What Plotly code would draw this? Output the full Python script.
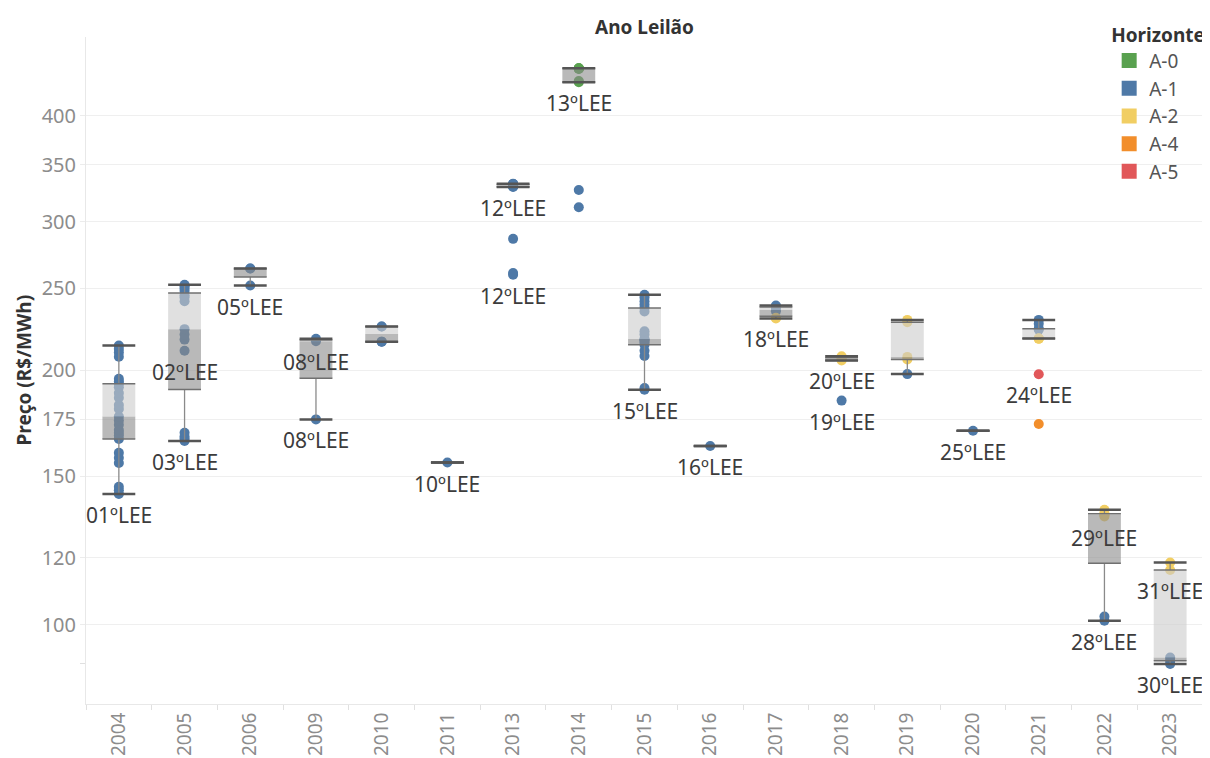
import numpy as np
import plotly.graph_objects as go

anos = ["2004", "2005", "2006", "2009", "2010", "2011", "2013", "2014", "2015",
        "2016", "2017", "2018", "2019", "2020", "2021", "2022", "2023"]

horizontes = ["A-0", "A-1", "A-2", "A-4", "A-5"]
cores = ["#59a14f", "#4e79a7", "#f1ce63", "#f28e2b", "#e15759"]

# one entry per project: auction year, price (R$/MWh), horizon
ponto_ano = (["2004"] * 25 + ["2005"] * 15 + ["2006"] * 3 + ["2009"] * 3 + ["2010"] * 4
             + ["2011"] + ["2013"] * 13 + ["2014"] * 9 + ["2015"] * 17 + ["2016"]
             + ["2017"] * 6 + ["2018"] * 5 + ["2019"] * 5 + ["2020"] + ["2021"] * 9
             + ["2022"] * 7 + ["2023"] * 5)
ponto_preco = [
    142.8, 144.3, 145.7, 155.4, 157.6, 159.8, 165.9, 167.5, 168.7, 170, 172.5, 174.5, 176.4,
    180, 182, 185.6, 188, 191, 192.8, 194, 195.5, 207.6, 210, 212, 214,            # 2004
    165, 166, 167, 168.7, 211, 217.5, 220.5, 223.8, 241.5, 244, 245.5, 248.3, 250,
    251.5, 252.5,                                                                  # 2005
    252, 264, 264,                                                                 # 2006
    175, 216.5, 218,                                                               # 2009
    216.3, 216.3, 225.4, 225.4,                                                    # 2010
    155.6,                                                                         # 2011
    259.5, 260.8, 286.2, 329.6, 330, 330.5, 331, 331, 331.5, 332, 332, 332.3, 332.6,  # 2013
    312, 327, 438.6, 440, 454.5, 455, 455.6, 455.6, 455.6,                         # 2014
    189.7, 190.6, 208, 211, 214.5, 216, 217, 217.5, 217.8, 220.5, 222.5, 234.8, 237,
    239.2, 241.4, 244, 245.7,                                                      # 2015
    162.8,                                                                         # 2016
    230.4, 230.8, 235, 236.5, 238, 238.6,                                          # 2017
    184.2, 205.5, 206.5, 207, 207.8,                                               # 2018
    198, 206, 207.5, 228, 229.5,                                                   # 2019
    169.7,                                                                         # 2020
    172.8, 197.9, 218.1, 218.1, 218.1, 223.5, 224.1, 227.1, 229.5,                 # 2021
    101.1, 102.3, 134.3, 135, 135.2, 135.4, 136.8,                                 # 2022
    89.9, 90.7, 91.5, 116.1, 118.5,                                                # 2023
]
ponto_horiz = (["A-1"] * 25 + ["A-1"] * 15 + ["A-1"] * 3 + ["A-1"] * 3 + ["A-1"] * 4
               + ["A-1"] + ["A-1"] * 13 + ["A-1"] * 2 + ["A-0"] * 7 + ["A-1"] * 17 + ["A-1"]
               + ["A-2"] * 2 + ["A-1"] * 4 + ["A-1"] + ["A-2"] * 4 + ["A-1"] + ["A-2"] * 4
               + ["A-1"] + ["A-4", "A-5"] + ["A-2"] * 3 + ["A-1"] * 4
               + ["A-1"] * 2 + ["A-2"] * 5 + ["A-1"] * 3 + ["A-2"] * 2)

# auction labels, attached to a point of that year
rotulo_ano = ["2004", "2005", "2005", "2006", "2009", "2009", "2011", "2013", "2013", "2014",
              "2015", "2016", "2017", "2018", "2018", "2020", "2021", "2022", "2022",
              "2023", "2023"]
rotulo_preco = [142.8, 211, 165, 252, 216.5, 175, 155.6, 329.6, 259.5, 438.6,
                189.7, 162.8, 230.4, 205.5, 184.2, 169.7, 197.9, 134.3, 101.1,
                116.1, 89.9]
rotulo_texto = ["01ºLEE", "02ºLEE", "03ºLEE", "05ºLEE", "08ºLEE", "08ºLEE", "10ºLEE",
                "12ºLEE", "12ºLEE", "13ºLEE", "15ºLEE", "16ºLEE", "18ºLEE", "20ºLEE",
                "19ºLEE", "25ºLEE", "24ºLEE", "29ºLEE", "28ºLEE", "31ºLEE", "30ºLEE"]

pos = {a: i for i, a in enumerate(anos)}
px_ = np.array([pos[a] for a in ponto_ano])
py_ = np.array(ponto_preco)
ph_ = np.array(ponto_horiz)

# box statistics per year (linear percentiles, 1.5 IQR whiskers)
q1s, meds, q3s, los, his = [], [], [], [], []
for i in range(len(anos)):
    v = py_[px_ == i]
    q1, med, q3 = np.percentile(v, [25, 50, 75])
    iqr = q3 - q1
    q1s.append(q1)
    meds.append(med)
    q3s.append(q3)
    los.append(v[v >= q1 - 1.5 * iqr].min())
    his.append(v[v <= q3 + 1.5 * iqr].max())

W = 0.25


def rects(bottoms, tops):
    xs, ys = [], []
    for i, (b, t) in enumerate(zip(bottoms, tops)):
        xs += [i - W, i + W, i + W, i - W, i - W, None]
        ys += [b, b, t, t, b, None]
    return xs, ys


def hsegs(*vals):
    xs, ys = [], []
    for arr in vals:
        for i, v in enumerate(arr):
            xs += [i - W, i + W, None]
            ys += [v, v, None]
    return xs, ys


fig = go.Figure()

for h, c in zip(horizontes, cores):
    m = ph_ == h
    fig.add_trace(go.Scatter(x=px_[m], y=py_[m], mode='markers', showlegend=False,
                             marker=dict(size=10, color=c), hoverinfo='y'))

# boxes drawn over the points, like tableau does
bx, by = rects(q1s, meds)
fig.add_trace(go.Scatter(x=bx, y=by, mode='lines', fill='toself', showlegend=False,
                         fillcolor='rgba(138,138,138,0.6)', line=dict(width=0), hoverinfo='skip'))
bx, by = rects(meds, q3s)
fig.add_trace(go.Scatter(x=bx, y=by, mode='lines', fill='toself', showlegend=False,
                         fillcolor='rgba(203,203,203,0.6)', line=dict(width=0), hoverinfo='skip'))

wx, wy = [], []
for i in range(len(anos)):
    wx += [i, i, None, i, i, None]
    wy += [q3s[i], his[i], None, los[i], q1s[i], None]
fig.add_trace(go.Scatter(x=wx, y=wy, mode='lines', showlegend=False, hoverinfo='skip',
                         line=dict(color='#8a8a8a', width=1.3)))

ex, ey = hsegs(q1s, q3s)
fig.add_trace(go.Scatter(x=ex, y=ey, mode='lines', showlegend=False, hoverinfo='skip',
                         line=dict(color='#707070', width=1.5)))
cx, cy = hsegs(los, his)
fig.add_trace(go.Scatter(x=cx, y=cy, mode='lines', showlegend=False, hoverinfo='skip',
                         line=dict(color='#555555', width=2.5)))

# legend entries (squares)
for h, c in zip(horizontes, cores):
    fig.add_trace(go.Scatter(x=[None], y=[None], mode='markers', name=h,
                             marker=dict(symbol='square', size=15, color=c)))

for a, p, t in zip(rotulo_ano, rotulo_preco, rotulo_texto):
    fig.add_annotation(x=pos[a], y=np.log10(p), text=t, showarrow=False, yshift=-21,
                       font=dict(size=21, color='#3c3c3c'))

fig.add_annotation(x=0.5, y=1.015, xref='paper', yref='paper', text='<b>Ano Leilão</b>',
                   showarrow=False, yanchor='middle', font=dict(size=19, color='#333333'))
fig.add_annotation(x=-0.0564, y=0.5, xref='paper', yref='paper', text='<b>Preço (R$/MWh)</b>',
                   showarrow=False, textangle=-90, xanchor='center',
                   font=dict(size=19, color='#333333'))

# the page body has an 8px margin, so the figure is 8px smaller on each side
fig.update_layout(
    width=1202, height=750,
    margin=dict(l=78, r=7, t=29, b=54, autoexpand=False),
    plot_bgcolor='white', paper_bgcolor='white',
    font=dict(family='Noto Sans', color='#555555'),
    legend=dict(x=0.916, y=1.03, xanchor='left', yanchor='top', bgcolor='rgba(0,0,0,0)',
                font=dict(size=19, color='#555555'), tracegroupgap=0,
                title=dict(text='<b>Horizonte</b>', font=dict(size=19, color='#333333'))),
)
fig.update_xaxes(
    range=[-0.5, len(anos) - 0.5], tickvals=list(range(len(anos))), ticktext=anos,
    tickangle=-90, ticks='', showgrid=False, zeroline=False, automargin=False,
    showline=True, linecolor='#e8e8e8',
    tickfont=dict(size=19, color='#8c8c8c'),
    minor=dict(tickvals=[i - 0.5 for i in range(len(anos) + 1)], ticks='outside',
               ticklen=5, tickcolor='#e0e0e0', showgrid=False),
)
fig.update_yaxes(
    type='log', range=[np.log10(80.6), np.log10(496)],
    tickvals=[100, 120, 150, 175, 200, 250, 300, 350, 400],
    ticktext=['100', '120', '150', '175', '200', '250', '300', '350', '400'],
    ticks='outside', ticklen=5, tickcolor='#ececec',
    showgrid=True, gridcolor='#efefef', gridwidth=1, zeroline=False, automargin=False,
    showline=True, linecolor='#e8e8e8',
    tickfont=dict(size=20, color='#8c8c8c'),
    minor=dict(tickvals=[90], ticks='outside', ticklen=5, tickcolor='#e0e0e0', showgrid=False),
)

fig.write_html("out.html")
